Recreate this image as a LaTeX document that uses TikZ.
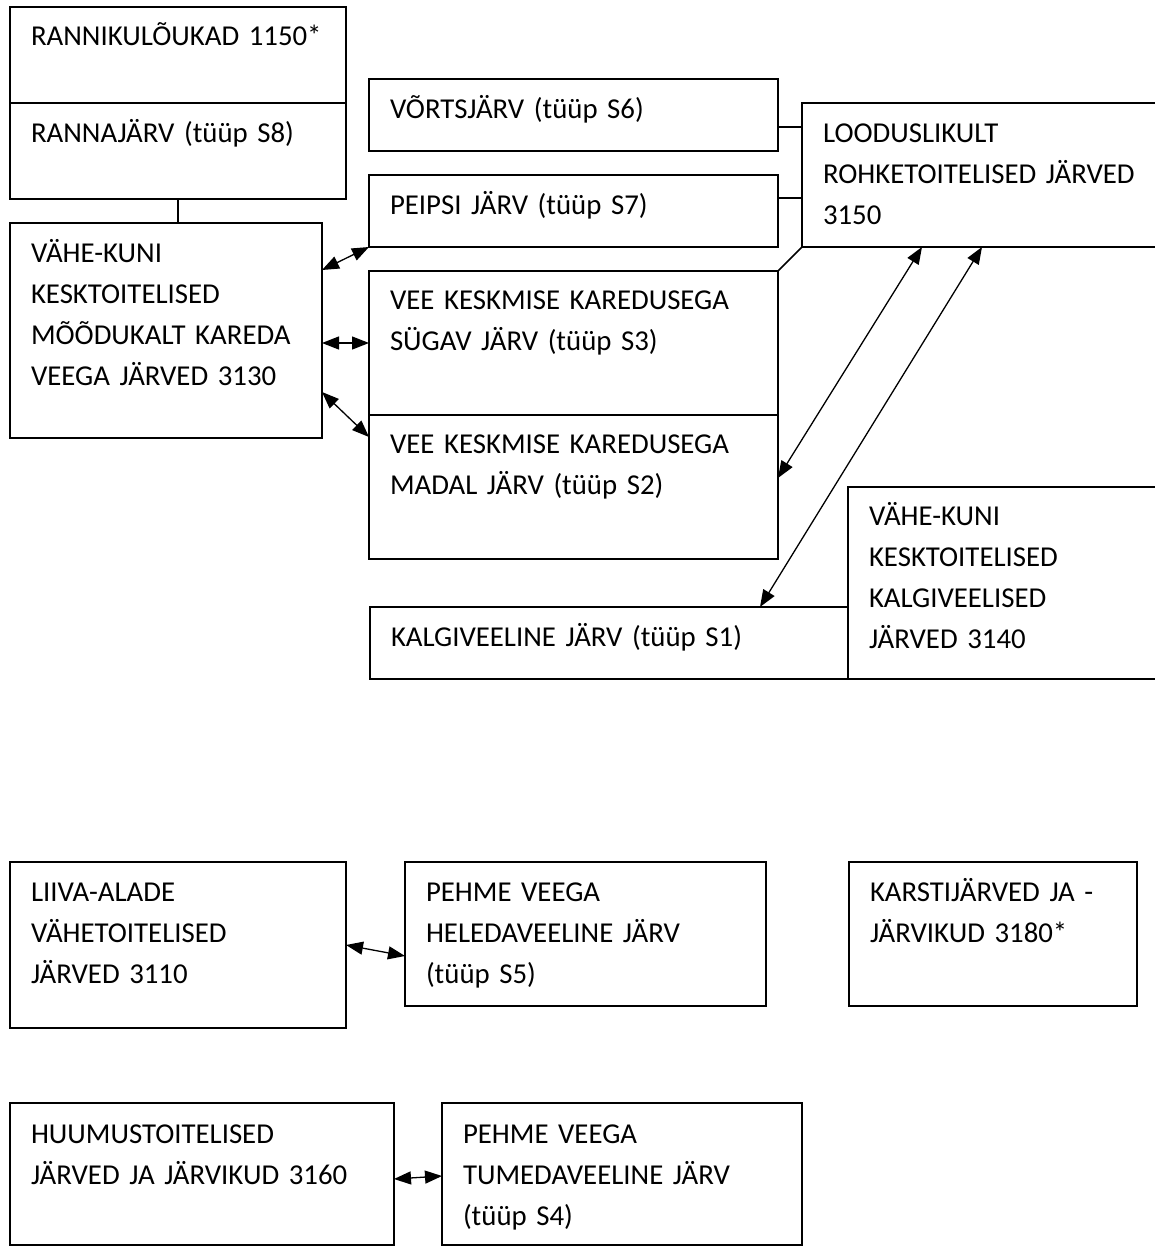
\documentclass[tikz,border=0pt]{standalone}
\usepackage{fontspec}
\setmainfont{Carlito}[WordSpace=0.85]
\usetikzlibrary{arrows.meta}

\newcommand{\lakefont}{\fontsize{28.8pt}{41pt}\selectfont}

\tikzset{
  lake/.style n args={4}{draw, line width=1.6pt, anchor=north west, align=left,
    inner xsep=21pt, inner ysep=0pt, outer sep=0pt, font=\lakefont,
    text width=#1, text height=#2, text depth=#3, minimum width=#4},
  link/.style={line width=1.6pt},
  tip/.tip={Triangle[length=17pt,width=13pt]},
  both/.style={tip-tip, line width=1.3pt}
}

\begin{document}
\begin{tikzpicture}[x=1pt,y=-1pt]
\useasboundingbox (0,0) rectangle (1155,1247);
\clip (0,0) rectangle (1155,1247);

%upper group
\node[lake={294pt}{39pt}{57pt}{336pt}] (rannik) at (10,7) {RANNIKULÕUKAD 1150*};
\node[lake={294pt}{39pt}{57pt}{336pt}] (rannaj) at (10,103) {RANNAJÄRV (tüüp S8)};
\node[lake={270pt}{39pt}{176pt}{312pt}] (kesk) at (10,223) {VÄHE-KUNI\\KESKTOITELISED\\MÕÕDUKALT KAREDA\\VEEGA JÄRVED 3130};

\node[lake={367pt}{39pt}{33pt}{409pt}] (vorts) at (369,79) {VÕRTSJÄRV (tüüp S6)};
\node[lake={367pt}{39pt}{33pt}{409pt}] (peipsi) at (369,175) {PEIPSI JÄRV (tüüp S7)};
\node[lake={367pt}{38pt}{106pt}{409pt}] (sygav) at (369,271) {VEE KESKMISE KAREDUSEGA\\SÜGAV JÄRV (tüüp S3)};
\node[lake={367pt}{38pt}{106pt}{409pt}] (madal) at (369,415) {VEE KESKMISE KAREDUSEGA\\MADAL JÄRV (tüüp S2)};

\node[lake={328pt}{39pt}{105pt}{370pt}] (loodus) at (802,103) {LOODUSLIKULT\\ROHKETOITELISED JÄRVED\\3150};

\node[lake={436pt}{39pt}{33pt}{478pt}] (kalgi) at (370,607) {KALGIVEELINE JÄRV (tüüp S1)};
\node[lake={278pt}{38pt}{154pt}{320pt}] (kalgi3140) at (848,487) {VÄHE-KUNI\\KESKTOITELISED\\KALGIVEELISED\\JÄRVED 3140};

\draw[link] (rannaj.south) -- (rannaj.south |- kesk.north);
\draw[link] ([yshift=-12pt]vorts.east) -- ([yshift=-12pt]vorts.east -| loodus.west);
\draw[link] ([yshift=13pt]peipsi.east) -- ([yshift=13pt]peipsi.east -| loodus.west);
\draw[link] (sygav.north east) -- (loodus.south west);

\draw[both] ([yshift=-47pt]kesk.north east) -- (peipsi.south west);
\draw[both] (sygav.west -| kesk.east) -- (sygav.west);
\draw[both] ([yshift=-169pt]kesk.north east) -- ([yshift=-22pt]madal.north west);
\draw[both] ([xshift=120pt]loodus.south west) -- ([yshift=9pt]madal.east);
\draw[both] ([xshift=180pt]loodus.south west) -- ([xshift=390pt]kalgi.north west);

%lower group
\node[lake={294pt}{39pt}{127pt}{336pt}] (liiva) at (10,862) {LIIVA-ALADE\\VÄHETOITELISED\\JÄRVED 3110};
\node[lake={319pt}{39pt}{105pt}{361pt}] (heleda) at (405,862) {PEHME VEEGA\\HELEDAVEELINE JÄRV\\(tüüp S5)};
\node[lake={246pt}{39pt}{105pt}{288pt}] (karsti) at (849,862) {KARSTIJÄRVED JA -\\JÄRVIKUD 3180*};

\node[lake={342pt}{40pt}{102pt}{384pt}] (huumus) at (10,1103) {HUUMUSTOITELISED\\JÄRVED JA JÄRVIKUD 3160};
\node[lake={318pt}{40pt}{102pt}{360pt}] (tumeda) at (442,1103) {PEHME VEEGA\\TUMEDAVEELINE JÄRV\\(tüüp S4)};

\draw[both] (liiva.east) -- ([yshift=-22pt]heleda.west);
\draw[both] ([yshift=-5pt]huumus.east) -- ([yshift=-2pt]tumeda.west);

\end{tikzpicture}
\end{document}
